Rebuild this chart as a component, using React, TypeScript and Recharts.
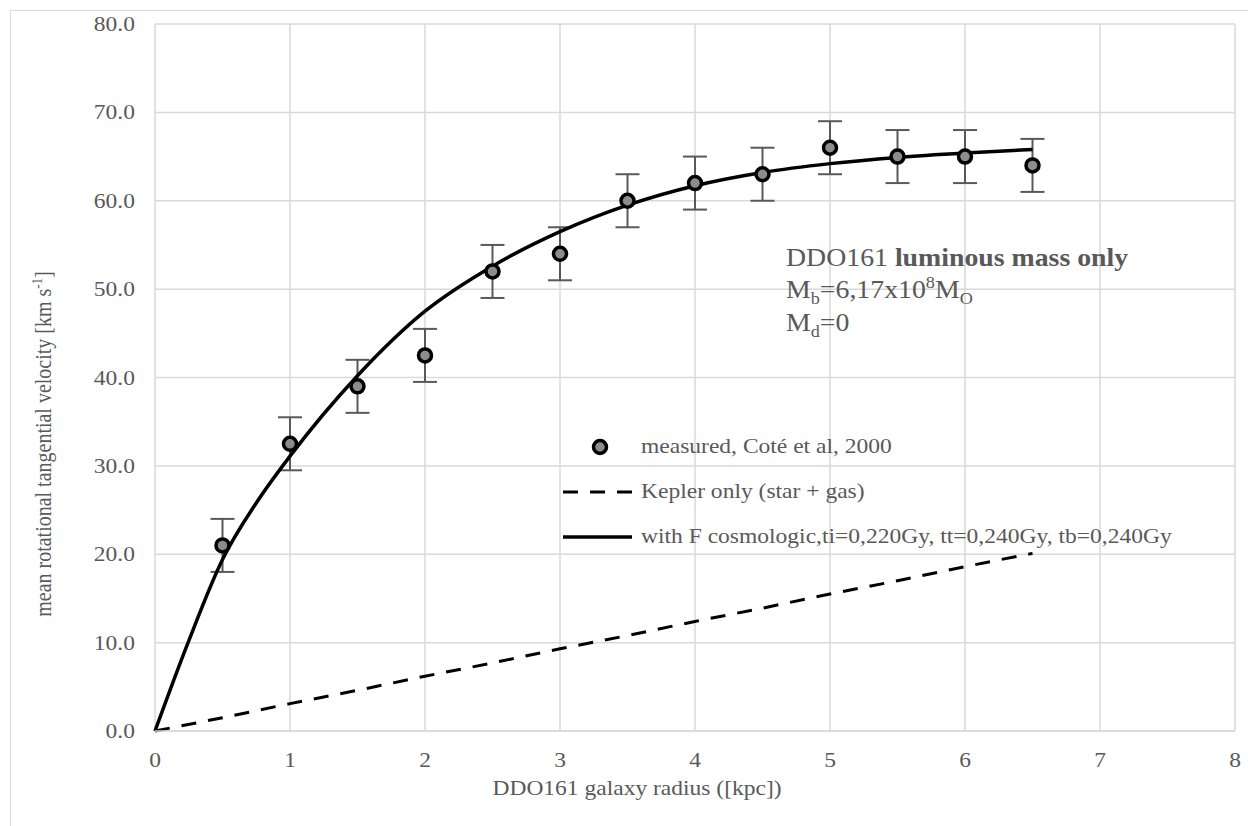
import { ComposedChart, Line, Scatter, ErrorBar, XAxis, YAxis, CartesianGrid, Legend, Label } from 'recharts';

// measured rotation curve (Coté et al, 2000)
const radiusMeasured = [0.5, 1, 1.5, 2, 2.5, 3, 3.5, 4, 4.5, 5, 5.5, 6, 6.5];
const velocityMeasured = [21, 32.5, 39, 42.5, 52, 54, 60, 62, 63, 66, 65, 65, 64];
const velocityError = [3, 3, 3, 3, 3, 3, 3, 3, 3, 3, 3, 3, 3];

// Kepler only (star + gas)
const radiusKepler = [0, 0.5, 1, 1.5, 2, 2.5, 3, 3.5, 4, 4.5, 5, 5.5, 6, 6.5];
const velocityKepler = [0, 1.5, 3.1, 4.6, 6.2, 7.7, 9.3, 10.8, 12.4, 13.9, 15.5, 17.0, 18.6, 20.1];

// with F cosmologic
const radiusCosmo = [0, 0.25, 0.5, 0.75, 1, 1.5, 2, 2.5, 3, 3.5, 4, 4.5, 5, 5.5, 6, 6.5];
const velocityCosmo = [0, 10.2, 19.4, 25.8, 31.1, 40.2, 47.5, 52.6, 56.5, 59.5, 61.7, 63.2, 64.2, 64.9, 65.4, 65.8];

const xTicks = [0, 1, 2, 3, 4, 5, 6, 7, 8];
const yTicks = [0, 10, 20, 30, 40, 50, 60, 70, 80];

const legendLabels = [
  'measured, Coté et al, 2000',
  'Kepler only (star + gas)',
  'with F cosmologic,ti=0,220Gy, tt=0,240Gy, tb=0,240Gy',
];

const FONT = '"Liberation Serif", "Times New Roman", serif';
const TEXT = '#595959';
const GRID = '#d9d9d9';
const STRETCH = 1.12;

const measured = radiusMeasured.map((x, i) => ({ x, v: velocityMeasured[i], err: velocityError[i] }));
const kepler = radiusKepler.map((x, i) => ({ x, v: velocityKepler[i] }));
const cosmo = radiusCosmo.map((x, i) => ({ x, v: velocityCosmo[i] }));

const XTick = ({ x, y, payload }: any) => (
  <text
    transform={`translate(${x},${y + 36}) scale(${STRETCH},1)`}
    textAnchor="middle"
    fontFamily={FONT}
    fontSize={21}
    fill={TEXT}
  >
    {payload.value}
  </text>
);

const YTick = ({ x, y, payload }: any) => (
  <text
    transform={`translate(${x},${y + 7}) scale(${STRETCH},1)`}
    textAnchor="end"
    fontFamily={FONT}
    fontSize={21}
    fill={TEXT}
  >
    {Number(payload.value).toFixed(1)}
  </text>
);

const Dot = (props: any) => {
  const { cx, cy } = props;
  return <circle cx={cx} cy={cy} r={6.5} fill="#8c8c8c" stroke="#000" strokeWidth={3.5} />;
};

const legendIcon = (i: number) => {
  if (i === 0) return <circle cx={40} cy={10} r={6.5} fill="#8c8c8c" stroke="#000" strokeWidth={3.5} />;
  if (i === 1) return <line x1={3} y1={10} x2={72} y2={10} stroke="#000" strokeWidth={3} strokeDasharray="15 12" />;
  return <line x1={3} y1={10} x2={72} y2={10} stroke="#000" strokeWidth={3.5} />;
};

const renderLegend = () => (
  <div>
    {legendLabels.map((label, i) => (
      <div key={label} style={{ display: 'flex', alignItems: 'center', height: 45 }}>
        <svg width={72} height={20}>{legendIcon(i)}</svg>
        <span
          style={{
            marginLeft: 9,
            fontFamily: FONT,
            fontSize: 21,
            color: TEXT,
            whiteSpace: 'nowrap',
            display: 'inline-block',
            transform: `scaleX(${STRETCH})`,
            transformOrigin: 'left center',
          }}
        >
          {label}
        </span>
      </div>
    ))}
  </div>
);

export default function App() {
  return (
    <div style={{ position: 'absolute', left: 0, top: 0, width: 1248, height: 826 }}>
      <div
        style={{
          position: 'absolute',
          left: 10,
          top: 10,
          width: 1238,
          height: 816,
          boxSizing: 'border-box',
          borderLeft: `1.5px solid ${GRID}`,
          borderTop: `1.5px solid ${GRID}`,
        }}
      />
      <div style={{ position: 'absolute', left: 0, top: 0 }}>
        <ComposedChart width={1248} height={826} margin={{ top: 24, right: 13, bottom: 65, left: 95 }}>
          <CartesianGrid stroke={GRID} strokeWidth={1.5} />
          <XAxis
            type="number"
            dataKey="x"
            domain={[0, 8]}
            ticks={xTicks}
            height={30}
            tickSize={0}
            tickMargin={0}
            axisLine={{ stroke: GRID, strokeWidth: 1.5 }}
            tick={<XTick />}
            interval={0}
          >
            <Label
              content={() => (
                <text
                  transform={`translate(637,795) scale(${STRETCH},1)`}
                  textAnchor="middle"
                  fontFamily={FONT}
                  fontSize={21}
                  fill={TEXT}
                >
                  DDO161 galaxy radius ([kpc])
                </text>
              )}
            />
          </XAxis>
          <YAxis
            type="number"
            domain={[0, 80]}
            ticks={yTicks}
            width={60}
            tickSize={0}
            tickMargin={20}
            axisLine={false}
            tick={<YTick />}
            interval={0}
          >
            <Label
              content={() => (
                <text
                  transform={`translate(51,444) rotate(-90) scale(1,${STRETCH})`}
                  textAnchor="middle"
                  fontFamily={FONT}
                  fontSize={20}
                  fill={TEXT}
                >
                  mean rotational tangential velocity [km s<tspan dy={-8} fontSize={13}>-1</tspan>
                  <tspan dy={8}>]</tspan>
                </text>
              )}
            />
          </YAxis>
          <Scatter data={measured} dataKey="v" name={legendLabels[0]} shape={<Dot />} isAnimationActive={false}>
            <ErrorBar dataKey="err" direction="y" width={12} stroke="#595959" strokeWidth={2} isAnimationActive={false} />
          </Scatter>
          <Line
            data={kepler}
            dataKey="v"
            name={legendLabels[1]}
            type="linear"
            stroke="#000"
            strokeWidth={3}
            strokeDasharray="15 12"
            dot={false}
            activeDot={false}
            isAnimationActive={false}
          />
          <Line
            data={cosmo}
            dataKey="v"
            name={legendLabels[2]}
            type="monotone"
            stroke="#000"
            strokeWidth={3.5}
            dot={false}
            activeDot={false}
            isAnimationActive={false}
          />
          <Legend
            layout="vertical"
            align="center"
            verticalAlign="middle"
            content={renderLegend}
            wrapperStyle={{ position: 'absolute', left: 560, top: 424, width: 660, height: 135 }}
          />
        </ComposedChart>
      </div>
      <svg
        width={1248}
        height={826}
        style={{ position: 'absolute', left: 0, top: 0, pointerEvents: 'none' }}
      >
        <g transform="translate(786,0) scale(1.07,1)" fontFamily={FONT} fontSize={26} fill={TEXT}>
          <text x={0} y={266}>
            DDO161 <tspan fontWeight="bold">luminous mass only</tspan>
          </text>
          <text x={0} y={298}>
            M<tspan fontSize={17} dy={6}>b</tspan>
            <tspan dy={-6}>=6,17x10</tspan>
            <tspan fontSize={17} dy={-10}>8</tspan>
            <tspan dy={10}>M</tspan>
            <tspan fontSize={17} dy={6}>O</tspan>
          </text>
          <text x={0} y={331}>
            M<tspan fontSize={17} dy={6}>d</tspan>
            <tspan dy={-6}>=0</tspan>
          </text>
        </g>
      </svg>
    </div>
  );
}
